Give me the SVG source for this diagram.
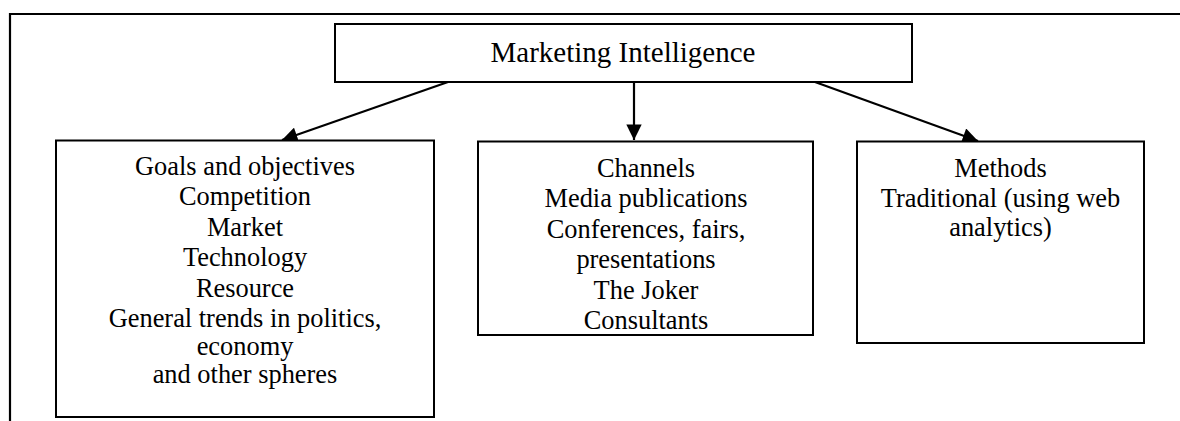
<svg xmlns="http://www.w3.org/2000/svg" width="1180" height="421" viewBox="0 0 1180 421">
<style>
.box{fill:#fff;stroke:#000;stroke-width:2}
.t{font-family:"Liberation Serif","Times New Roman",serif;font-size:26.4px;fill:#000;text-anchor:middle}
.title{font-size:29px}
.conn{stroke:#000;stroke-width:2.2;fill:none;marker-end:url(#ah)}
</style>
<defs>
<marker id="ah" viewBox="0 0 10 10" refX="10" refY="5" markerWidth="7.3" markerHeight="7" markerUnits="strokeWidth" orient="auto">
<path d="M0,0 L10,5 L0,10 z" fill="#000"/>
</marker>
</defs>
<rect width="1180" height="421" fill="#fff"/>
<g id="frame">
<path d="M10,421 V14 H1180" fill="none" stroke="#000" stroke-width="2.2"/>
</g>
<g id="connectors">
<line class="conn" x1="448" y1="82" x2="282" y2="140"/>
<line class="conn" x1="634" y1="82" x2="634" y2="140"/>
<line class="conn" x1="815" y1="82" x2="978" y2="141"/>
</g>
<g id="marketing-intelligence">
<rect class="box" x="335" y="24" width="577" height="58"/>
<text class="t title" x="623" y="62">Marketing Intelligence</text>
</g>
<g id="goals">
<rect class="box" x="56" y="140.5" width="378" height="276.5"/>
<text class="t" x="245" y="175">Goals and objectives</text>
<text class="t" x="245" y="205.4">Competition</text>
<text class="t" x="245" y="235.8">Market</text>
<text class="t" x="245" y="266.2">Technology</text>
<text class="t" x="245" y="296.6">Resource</text>
<text class="t" x="245" y="327">General trends in politics,</text>
<text class="t" x="245" y="355">economy</text>
<text class="t" x="245" y="382.5">and other spheres</text>
</g>
<g id="channels">
<rect class="box" x="478" y="141.5" width="335" height="193.5"/>
<text class="t" x="646" y="176.7">Channels</text>
<text class="t" x="646" y="207">Media publications</text>
<text class="t" x="646" y="237.5">Conferences, fairs,</text>
<text class="t" x="646" y="268">presentations</text>
<text class="t" x="646" y="298.5">The Joker</text>
<text class="t" x="646" y="329">Consultants</text>
</g>
<g id="methods">
<rect class="box" x="857" y="141.5" width="287" height="201.5"/>
<text class="t" x="1000.5" y="176.7">Methods</text>
<text class="t" x="1000.5" y="206.7">Traditional (using web</text>
<text class="t" x="1000.5" y="235.5">analytics)</text>
</g>
</svg>
